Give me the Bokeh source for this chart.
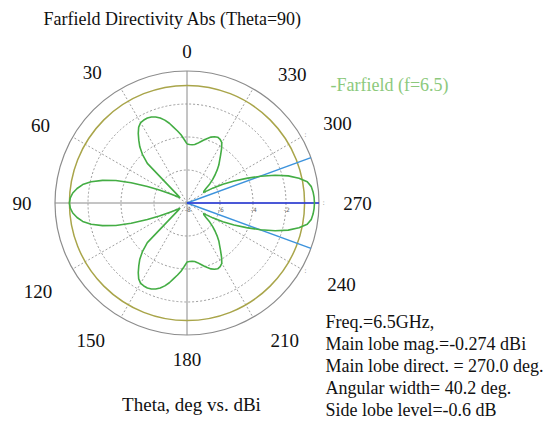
import numpy as np
from bokeh.plotting import figure
from bokeh.models import Range1d
from bokeh.core.properties import value
from bokeh.embed import file_html
from bokeh.resources import INLINE

# ---------------- data ----------------
title_text = "Farfield Directivity Abs (Theta=90)"
legend_text = "-Farfield (f=6.5)"
xlabel_text = "Theta, deg vs. dBi"
info_lines = ["Freq.=6.5GHz,",
              "Main lobe mag.=-0.274 dBi",
              "Main lobe direct. = 270.0 deg.",
              "Angular width= 40.2 deg.",
              "Side lobe level=-0.6 dB"]

angle_ticks = [0, 30, 60, 90, 120, 150, 180, 210, 240, 270, 300, 330]
radial_ticks = [-8, -6, -4, -2]
r_min, r_max = -8.0, 0.0

theta_deg = [i * 2.5 for i in range(144)]
directivity_dbi = [
    # 0 - 57.5
    -4.42, -4.15, -3.85, -3.60, -3.35, -3.05, -2.80, -2.60, -2.45, -2.36, -2.32, -2.33,
    -2.38, -2.55, -2.85, -3.20, -3.55, -4.00, -4.60, -6.80, -7.30, -7.45, -7.40, -7.20,
    # 60 - 117.5
    -7.00, -6.70, -6.15, -5.40, -4.40, -3.48, -2.70, -2.05, -1.58, -1.28, -1.05, -0.92,
    -0.874, -0.92, -1.05, -1.28, -1.58, -2.05, -2.70, -3.48, -4.40, -5.40, -6.15, -6.70,
    # 120 - 177.5
    -7.00, -7.20, -7.40, -7.45, -7.30, -6.80, -4.60, -4.00, -3.55, -3.20, -2.85, -2.55,
    -2.38, -2.33, -2.32, -2.36, -2.45, -2.60, -2.80, -3.05, -3.35, -3.60, -3.85, -4.15,
    # 180 - 237.5
    -4.42, -4.45, -4.46, -4.42, -4.33, -4.20, -4.05, -3.90, -3.75, -3.65, -3.60, -3.65,
    -3.78, -4.10, -4.45, -4.75, -5.00, -5.30, -5.60, -5.90, -6.20, -6.55, -6.75, -6.80,
    # 240 - 297.5
    -6.20, -5.55, -4.85, -4.10, -3.25, -2.40, -1.65, -1.05, -0.60, -0.40, -0.33, -0.29,
    -0.274, -0.29, -0.33, -0.40, -0.60, -1.05, -1.65, -2.40, -3.25, -4.10, -4.85, -5.55,
    # 300 - 357.5
    -6.20, -6.80, -6.75, -6.55, -6.20, -5.90, -5.60, -5.30, -5.00, -4.75, -4.45, -4.10,
    -3.78, -3.65, -3.60, -3.65, -3.75, -3.90, -4.05, -4.20, -4.33, -4.42, -4.46, -4.45,
]

main_lobe_dir = 270.0
angular_width = 40.2
side_lobe_level_dbi = -0.874

# ---------------- layout ----------------
W, H = 554, 421
cx_px, cy_px = 186.5, 202.5
px_per_unit = 16.5

fig = figure(width=W, height=H, output_backend="svg", toolbar_location=None,
             x_range=Range1d(-cx_px / px_per_unit, (W - cx_px) / px_per_unit),
             y_range=Range1d(-(H - cy_px) / px_per_unit, cy_px / px_per_unit),
             min_border=0, outline_line_color=None)
fig.axis.visible = False
fig.grid.visible = False
fig.background_fill_color = "white"
fig.border_fill_color = "white"


def polar(theta, rdb):
    t = np.radians(np.asarray(theta, dtype=float))
    r = np.clip(np.asarray(rdb, dtype=float), r_min, None) - r_min
    return -r * np.sin(t), r * np.cos(t)


R = r_max - r_min
serif = value("Liberation Serif")

# dashed grid circles
for rt in radial_ticks[1:]:
    fig.circle(x=[0], y=[0], radius=rt - r_min, fill_color=None,
               line_color="#9a9a9a", line_dash="2 2", line_width=1)
# radial grid lines
for a in angle_ticks:
    x1, y1 = polar([a], [r_max])
    major = a % 90 == 0
    fig.segment(x0=[0], y0=[0], x1=x1, y1=y1,
                line_color="#8a8a8a" if major else "#a0a0a0",
                line_dash="solid" if major else "2 2", line_width=1)
# outer circle
fig.circle(x=[0], y=[0], radius=R, fill_color=None, line_color="#8c8c8c", line_width=1.2)
# side lobe level circle
fig.circle(x=[0], y=[0], radius=side_lobe_level_dbi - r_min, fill_color=None,
           line_color="#a9a54a", line_width=1.5)

# beam width lines
for a in [main_lobe_dir - angular_width / 2, main_lobe_dir + angular_width / 2]:
    x1, y1 = polar([a], [r_max])
    fig.segment(x0=[0], y0=[0], x1=x1, y1=y1, line_color="#3d93dc", line_width=1.5)
x1, y1 = polar([main_lobe_dir], [r_max])
fig.segment(x0=[0], y0=[0], x1=x1, y1=y1, line_color="#2233dd", line_width=1.5)

# pattern
xs, ys = polar(theta_deg + [theta_deg[0]], directivity_dbi + [directivity_dbi[0]])
fig.line(xs, ys, line_color="#44ad44", line_width=1.6, line_join="round")

# radial tick labels
for rt in radial_ticks:
    fig.text(x=[rt - r_min + 0.05], y=[-0.25], text=[str(rt)], text_font=value("DejaVu Sans"),
             text_font_size="6px", text_color="#666666", text_align="center",
             text_baseline="top")
# tiny marks beyond the outer circle
for a in [240, 270, 300]:
    mx, my = polar([a], [r_max + 0.28])
    fig.text(x=mx, y=my, text=[":"], text_font=value("DejaVu Sans"), text_font_size="7px",
             text_color="#777777", text_align="center", text_baseline="middle")

# angle labels (placement around the circle)
label_pos_angle = {0: 0, 30: 36, 60: 62, 90: 90, 120: 120.6, 150: 145, 180: 180,
                   210: 215.3, 240: 242.3, 270: 270, 300: 297.7, 330: 320.7}
label_pos_r = {0: 152, 30: 161, 60: 166, 90: 165, 120: 173, 150: 168, 180: 156,
               210: 169, 240: 174.5, 270: 170.5, 300: 170, 330: 166}
for a in angle_ticks:
    lx, ly = polar([label_pos_angle[a]], [label_pos_r[a] / px_per_unit + r_min])
    fig.text(x=lx, y=ly, text=[str(a)], text_font=serif, text_font_size="19px",
             text_color="#111111", text_align="center", text_baseline="middle")


def px(x, y):
    return [(x - cx_px) / px_per_unit], [(cy_px - y) / px_per_unit]


tx, ty = px(43, 18)
fig.text(x=tx, y=ty, text=[title_text], text_font=serif, text_font_size="18px",
         text_color="#111111", text_align="left", text_baseline="middle")
tx, ty = px(330, 84)
fig.text(x=tx, y=ty, text=[legend_text], text_font=serif, text_font_size="18px",
         text_color="#8cc97c", text_align="left", text_baseline="middle")
tx, ty = px(191, 404)
fig.text(x=tx, y=ty, text=[xlabel_text], text_font=serif, text_font_size="19px",
         text_color="#111111", text_align="center", text_baseline="middle")
for i, line in enumerate(info_lines):
    tx, ty = px(325, 321 + 22 * i)
    fig.text(x=tx, y=ty, text=[line], text_font=serif, text_font_size="18px",
             text_color="#111111", text_align="left", text_baseline="middle")

open("out.html", "w").write(file_html(fig, INLINE))
